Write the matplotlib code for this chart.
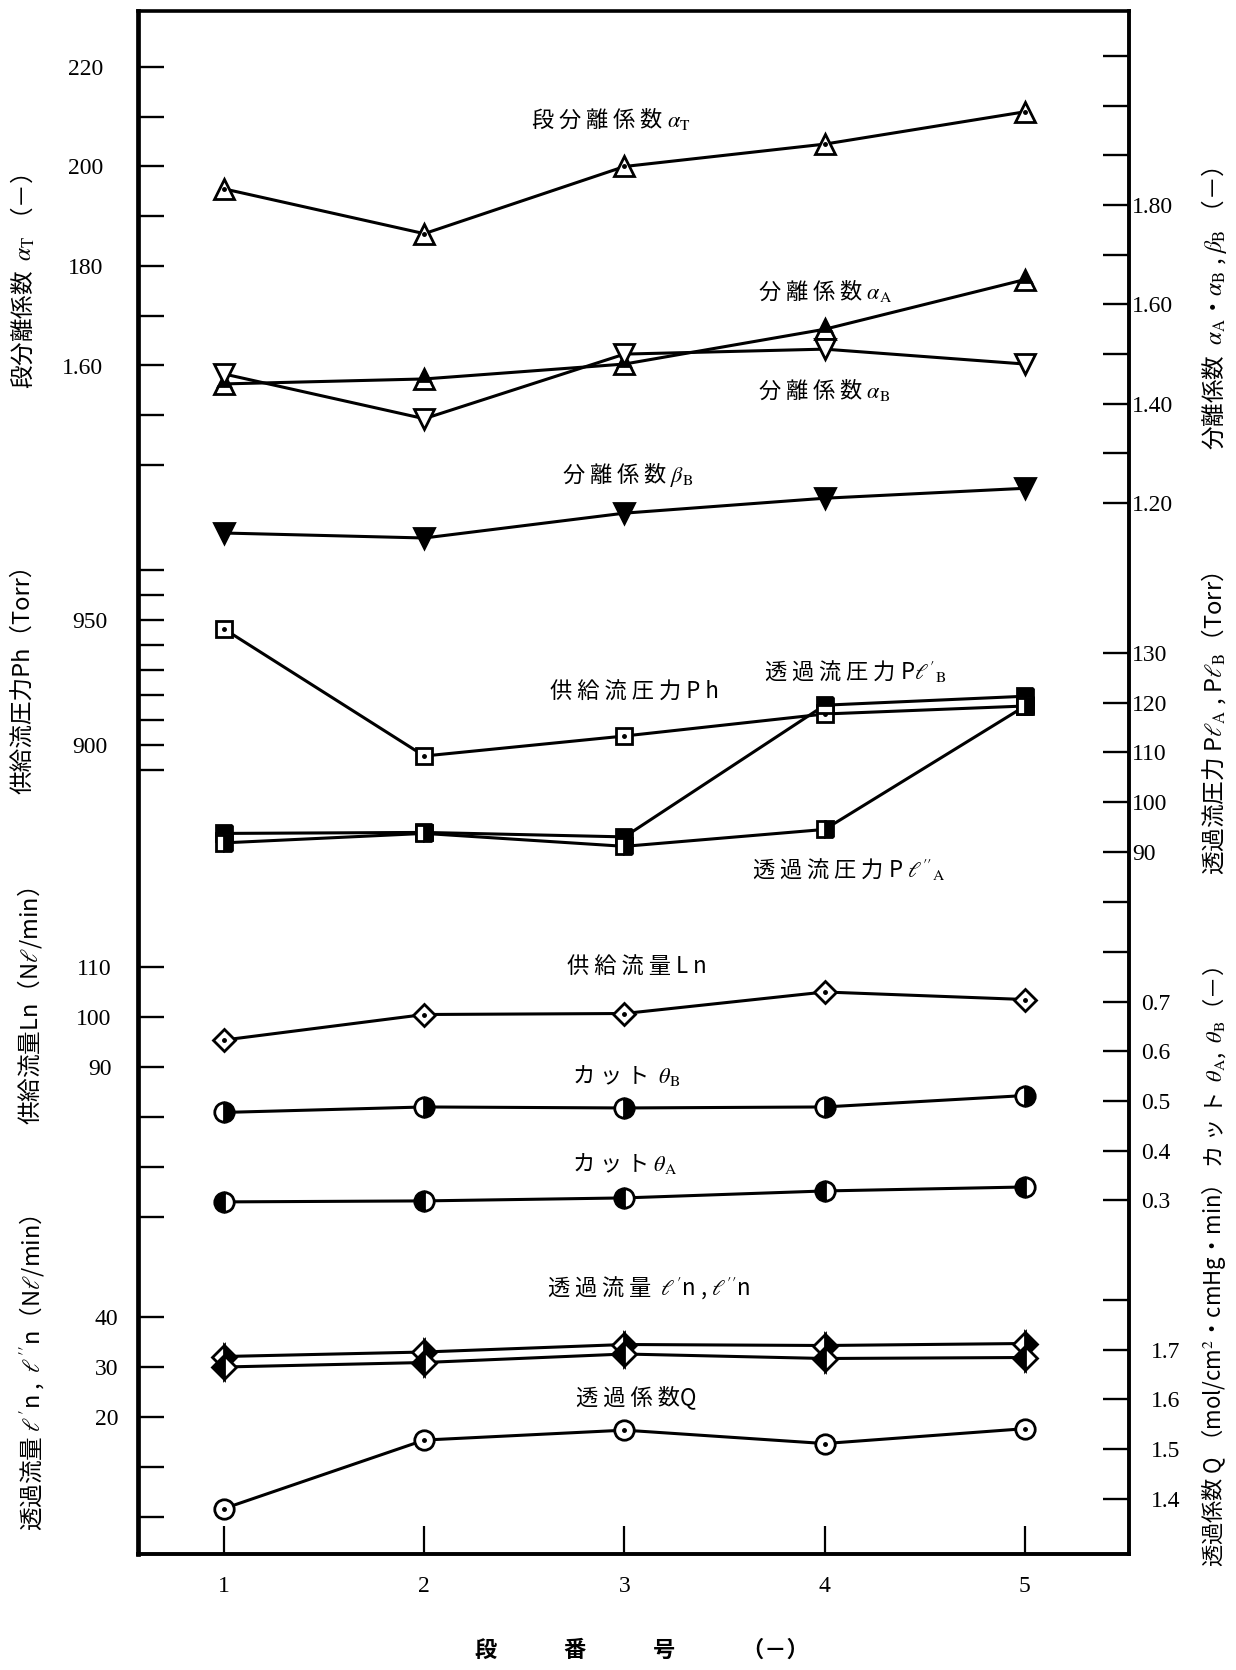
import numpy as np
import matplotlib.pyplot as plt

plt.rcParams['font.family'] = ['Noto Sans CJK JP', 'DejaVu Sans']
plt.rcParams['mathtext.fontset'] = 'stix'

# 段番号
stage = [1, 2, 3, 4, 5]

# 分離係数
alpha_t = [195.5, 186.5, 200.0, 204.5, 211.0]
alpha_a = [1.44, 1.45, 1.48, 1.55, 1.65]
alpha_b = [1.46, 1.37, 1.50, 1.51, 1.48]
beta_b = [1.14, 1.13, 1.18, 1.21, 1.23]

# 圧力 (Torr)
ph = [946.4, 895.6, 903.6, 912.4, 915.6]
pl_b = [93.7, 93.9, 93.0, 119.5, 121.3]
pl_a = [91.8, 93.7, 91.1, 94.5, 119.3]

# 流量・カット
ln = [95.4, 100.5, 100.7, 105.0, 103.5]
theta_b = [0.477, 0.488, 0.486, 0.488, 0.511]
theta_a = [0.297, 0.299, 0.305, 0.319, 0.327]
perm_1 = [32.1, 33.0, 34.5, 34.3, 34.7]
perm_2 = [30.0, 30.9, 32.6, 31.7, 31.9]
q = [1.380, 1.518, 1.538, 1.511, 1.541]

# 目盛
at_ticks = [140, 150, 160, 170, 180, 190, 200, 210, 220]
at_labels = ['', '', '1.60', '', '180', '', '200', '', '220']
a_ticks = [1.2, 1.3, 1.4, 1.5, 1.6, 1.7, 1.8, 1.9, 2.0, 2.1]
a_labels = ['1.20', '', '1.40', '', '1.60', '', '1.80', '', '', '']
ph_ticks = [890, 900, 910, 920, 930, 940, 950, 960, 970]
ph_labels = ['', '900', '', '', '', '', '950', '', '']
pl_ticks = [90, 100, 110, 120, 130]
pl_labels = ['90', '100', '110', '120', '130']
ln_ticks = [60, 70, 80, 90, 100, 110]
ln_labels = ['', '', '', '90', '100', '110']
th_ticks = [0.3, 0.4, 0.5, 0.6, 0.7, 0.8, 0.9]
th_labels = ['0.3', '0.4', '0.5', '0.6', '0.7', '', '']
pm_ticks = [0, 10, 20, 30, 40]
pm_labels = ['', '', '20', '30', '40']
q_ticks = [1.4, 1.5, 1.6, 1.7, 1.8]
q_labels = ['1.4', '1.5', '1.6', '1.7', '']

W, H = 1236, 1670
TOP, BOTTOM, LEFT, RIGHT = 11, 1554, 138, 1129
rect = [LEFT / W, 1 - BOTTOM / H, (RIGHT - LEFT) / W, (BOTTOM - TOP) / H]

fig = plt.figure(figsize=(W / 100, H / 100), dpi=100)
frame = fig.add_axes(rect)
frame.set_xlim(0.57, 5.52)
frame.set_ylim(0, 1)
frame.set_yticks([])
frame.set_xticks(stage)
frame.set_xticklabels([str(s) for s in stage])
frame.tick_params(axis='x', direction='in', length=20, width=1.6, pad=16,
                  labelsize=17, labelfontfamily='Liberation Serif')
for name, lw in [('left', 3.4), ('right', 2.8), ('top', 2.6), ('bottom', 2.8)]:
    frame.spines[name].set_linewidth(lw)


def scale_axes(side, v0, p0, ppu, ticks, labels, pad):
    ax = fig.add_axes(rect, sharex=frame)
    ax.patch.set_visible(False)
    for s in ax.spines.values():
        s.set_visible(False)
    ax.set_ylim(v0 - (BOTTOM - p0) / ppu, v0 + (p0 - TOP) / ppu)
    ax.set_yticks(ticks)
    ax.set_yticklabels(labels)
    ax.yaxis.set_ticks_position(side)
    ax.tick_params(axis='y', direction='in', length=19, width=1.7, pad=pad,
                   labelsize=17, labelfontfamily='Liberation Serif')
    ax.tick_params(axis='x', which='both', bottom=False, top=False,
                   labelbottom=False)
    return ax


ax_at = scale_axes('left', 220, 67, 4.975, at_ticks, at_labels, 25)
ax_a = scale_axes('right', 1.80, 205, 497, a_ticks, a_labels, 2)
ax_ph = scale_axes('left', 950, 620, 2.5, ph_ticks, ph_labels, 22)
ax_pl = scale_axes('right', 130, 653, 4.97, pl_ticks, pl_labels, 2)
ax_ln = scale_axes('left', 100, 1017, 5.0, ln_ticks, ln_labels, 19)
ax_th = scale_axes('right', 0.5, 1101, 497, th_ticks, th_labels, 9)
ax_pm = scale_axes('left', 30, 1367, 5.0, pm_ticks, pm_labels, 14)
ax_q = scale_axes('right', 1.5, 1449, 496, q_ticks, q_labels, 16)

LW = 2.2
MEW = 2.0


def series(ax, y, marker, ms, fill='full', face='white', dot=False):
    ax.plot(stage, y, color='black', lw=LW, marker=marker, ms=ms,
            mew=MEW, mec='black', mfc=face, fillstyle=fill,
            markerfacecoloralt='white', zorder=3)
    if dot:
        ax.plot(stage, y, ls='none', marker='o', ms=2.5, color='black',
                zorder=4)


series(ax_at, alpha_t, '^', 15, dot=True)
series(ax_a, alpha_a, '^', 15, fill='top', face='black')
series(ax_a, alpha_b, 'v', 15)
series(ax_a, beta_b, 'v', 15, face='black')
series(ax_ph, ph, 's', 12, dot=True)
series(ax_pl, pl_b, 's', 12, fill='top', face='black')
series(ax_pl, pl_a, 's', 12, fill='right', face='black')
series(ax_ln, ln, 'D', 11, dot=True)
series(ax_th, theta_b, 'o', 14, fill='right', face='black')
series(ax_th, theta_a, 'o', 14, fill='left', face='black')
series(ax_pm, perm_1, 'D', 12, fill='right', face='black')
series(ax_pm, perm_2, 'D', 12, fill='left', face='black')
series(ax_q, q, 'o', 14, dot=True)


def put(x, y, s, size=15, **kw):
    fig.text(x / W, 1 - y / H, s, fontsize=size, va='center', **kw)


# 系列名
put(531, 119, r'段 分 離 係 数 $\alpha_{\mathrm{T}}$', size=16)
put(758, 291, r'分 離 係 数 $\alpha_{\mathrm{A}}$', size=16)
put(758, 390, r'分 離 係 数 $\alpha_{\mathrm{B}}$', size=16)
put(562, 475, r'分 離 係 数 $\beta_{\mathrm{B}}$', size=16)
put(550, 692, '供 給 流 圧 力 P h', size=16)
put(764, 671, r"透 過 流 圧 力 P$\ell'_{\mathrm{B}}$", size=16)
put(752, 869, r"透 過 流 圧 力 P $\ell''_{\mathrm{A}}$", size=16)
put(567, 967, '供 給 流 量 L n', size=16)
put(572, 1075, r'カ ッ ト  $\theta_{\mathrm{B}}$', size=16)
put(572, 1164, r'カ ッ ト $\theta_{\mathrm{A}}$', size=16)
put(547, 1288, r"透 過 流 量  $\ell'$n , $\ell''$n", size=16)
put(576, 1397, '透 過 係 数Q', size=16)

# 縦軸名
put(23, 282, r'段分離係数  $\alpha_{\mathrm{T}}$ （－）', size=17, rotation=90,
    ha='center')
put(23, 673, '供給流圧力Ph（Torr）', size=17, rotation=90, ha='center')
put(30, 1006, r'供給流量Ln（N$\ell$/min）', size=17, rotation=90, ha='center')
put(32, 1373, r"透過流量 $\ell'$n ,  $\ell''$n（N$\ell$/min）", size=17,
    rotation=90, ha='center')
put(1214, 309, r'分離係数  $\alpha_{\mathrm{A}}$・$\alpha_{\mathrm{B}}$ , $\beta_{\mathrm{B}}$ （－）',
    size=17, rotation=90, ha='center')
put(1214, 724, r'透過流圧力 P$\ell_{\mathrm{A}}$ , P$\ell_{\mathrm{B}}$（Torr）',
    size=17, rotation=90, ha='center')
put(1214, 1068, r'カ ッ ト  $\theta_{\mathrm{A}}$,  $\theta_{\mathrm{B}}$（－）',
    size=16, rotation=90, ha='center')
put(1214, 1376, r'透過係数 Q （mol/cm$^2$・cmHg・min）', size=16, rotation=90,
    ha='center')

# 横軸名
put(642, 1650, '段　　　番　　　号　　　（－）', size=16, ha='center',
    fontweight='bold')

fig.savefig('out.png', dpi=100)
